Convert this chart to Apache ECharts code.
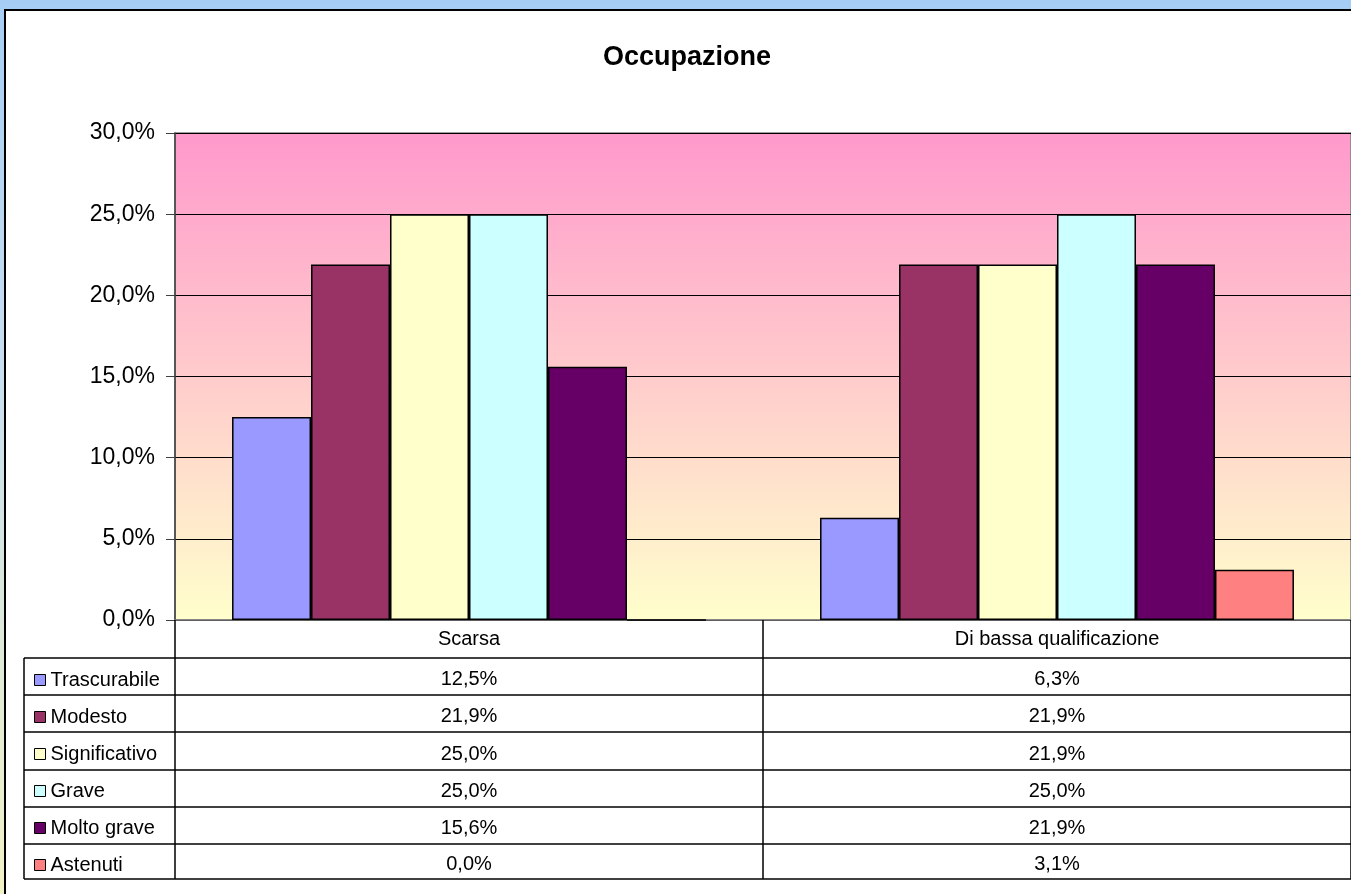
<!DOCTYPE html>
<html>
<head>
    <meta charset="utf-8">
    <title>Occupazione | ECharts</title>
    <script src="https://cdn.jsdelivr.net/npm/echarts@6/dist/echarts.min.js"></script>
    <style>
        html, body { margin: 0; padding: 0; }
        body {
            width: 1351px; height: 894px; overflow: hidden; position: relative;
            background: linear-gradient(to bottom, #a6cef4 0%, #c8def0 40%, #f2f2c6 100%);
        }
        #frame {
            position: absolute; left: 4px; top: 9px; right: -10px; bottom: -10px;
            background: #fff; border-left: 2px solid #000; border-top: 2px solid #000;
        }
        #main { position: absolute; left: 0; top: 0; width: 1351px; height: 894px; }
    </style>
</head>
<body>
    <div id="frame"></div>
    <div id="main"></div>
    <script type="text/javascript">
        // dati (percentuali)
        var categories = ['Scarsa', 'Di bassa qualificazione'];
        var seriesNames = ['Trascurabile', 'Modesto', 'Significativo', 'Grave', 'Molto grave', 'Astenuti'];
        var trascurabile = [12.5, 6.3];
        var modesto = [21.9, 21.9];
        var significativo = [25.0, 21.9];
        var grave = [25.0, 25.0];
        var moltoGrave = [15.6, 21.9];
        var astenuti = [0.0, 3.1];
        var yTicks = [0, 5, 10, 15, 20, 25, 30];

        var values = [trascurabile, modesto, significativo, grave, moltoGrave, astenuti];
        var colors = ['#9999ff', '#993366', '#ffffcc', '#ccffff', '#660066', '#ff8080'];

        function pct(v) {
            return v.toFixed(1).replace('.', ',') + '%';
        }

        var font = 'Liberation Sans, Arial, sans-serif';
        var myChart = echarts.init(document.getElementById('main'));

        var series = seriesNames.map(function (name, i) {
            return {
                name: name,
                type: 'bar',
                data: values[i],
                barGap: 0,
                barCategoryGap: '19.4%',
                itemStyle: { color: colors[i], borderColor: '#000', borderWidth: 1.5 },
                animation: false
            };
        });

        var option = {
            animation: false,
            title: {
                text: 'Occupazione',
                left: 598,
                top: 39,
                textStyle: { fontFamily: font, fontSize: 27, fontWeight: 'bold', color: '#000' }
            },
            legend: {
                orient: 'vertical',
                left: 29,
                top: 665,
                icon: 'rect',
                itemWidth: 11,
                itemHeight: 11,
                itemGap: 17,
                selectedMode: false,
                itemStyle: { borderColor: '#000', borderWidth: 1 },
                textStyle: { fontFamily: font, fontSize: 20, lineHeight: 20, color: '#000' },
                data: seriesNames
            },
            grid: {
                left: 175, top: 133, right: 0, bottom: 274,
                show: true,
                borderColor: '#808080',
                borderWidth: 1.5,
                backgroundColor: new echarts.graphic.LinearGradient(0, 0, 0, 1, [
                    { offset: 0, color: '#ff99cc' },
                    { offset: 1, color: '#ffffcc' }
                ])
            },
            xAxis: {
                type: 'category',
                data: categories,
                axisLine: { lineStyle: { color: '#808080', width: 1.5 } },
                axisTick: { show: true, length: 259, lineStyle: { color: '#000', width: 1.5 } },
                axisLabel: { margin: 9, fontFamily: font, fontSize: 20, color: '#000' }
            },
            yAxis: {
                type: 'value',
                min: yTicks[0],
                max: yTicks[yTicks.length - 1],
                interval: 5,
                axisLine: { show: true, lineStyle: { color: '#404040', width: 1.5 } },
                axisTick: { show: true, length: 9, lineStyle: { color: '#404040' } },
                axisLabel: { margin: 20, fontFamily: font, fontSize: 23, color: '#000', formatter: pct },
                splitLine: { lineStyle: { color: '#000', width: 1 } }
            },
            series: series
        };

        myChart.setOption(option);

        // tabella dati sotto il grafico
        var rowLines = [658, 695, 732, 770, 807, 844, 879];
        var graphic = [];
        rowLines.forEach(function (y) {
            graphic.push({
                type: 'line', silent: true,
                shape: { x1: 24, y1: y, x2: 1351, y2: y },
                style: { stroke: '#000', lineWidth: 1.5 }
            });
        });
        graphic.push({
            type: 'line', silent: true,
            shape: { x1: 24, y1: rowLines[0], x2: 24, y2: rowLines[rowLines.length - 1] },
            style: { stroke: '#000', lineWidth: 1.5 }
        });
        categories.forEach(function (cat, c) {
            var cx = myChart.convertToPixel({ xAxisIndex: 0 }, cat);
            values.forEach(function (arr, r) {
                graphic.push({
                    type: 'text', silent: true,
                    x: cx,
                    y: (rowLines[r] + rowLines[r + 1]) / 2 + 3,
                    style: {
                        text: pct(arr[c]),
                        fontFamily: font, fontSize: 20, fill: '#000',
                        align: 'center', verticalAlign: 'middle'
                    }
                });
            });
        });
        myChart.setOption({ graphic: graphic });
    </script>
</body>
</html>
